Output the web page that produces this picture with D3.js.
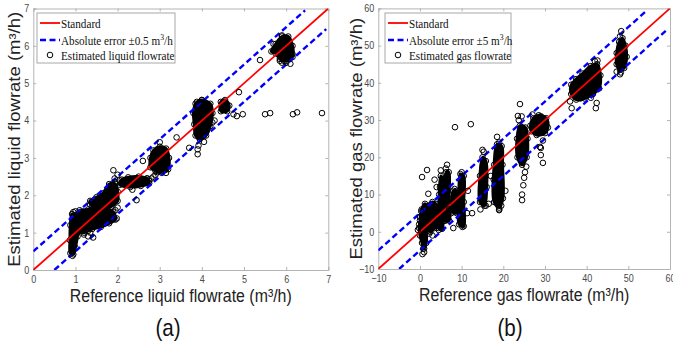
<!DOCTYPE html>
<html><head><meta charset="utf-8">
<script src="https://cdn.jsdelivr.net/npm/d3@7"></script>
<style>html,body{margin:0;padding:0;background:#fff;}svg{display:block;}</style>
</head><body>
<script>
// ---------- data ----------
const liquidTicks = [0,1,2,3,4,5,6,7];
const gasTicks = [-10,0,10,20,30,40,50,60];
const liquidBand = 0.5;
const gasBand = 5;
// dense regions (outlines of overlapping markers), data units
const liquidBlobs = [
  [[0.88,0.45],[0.95,0.42],[1.0,0.6],[1.05,0.9],[1.1,1.1],[1.06,1.45],[0.92,1.5],[0.88,1.2],[0.87,0.8]],
  [[1.0,1.05],[1.2,1.0],[1.4,1.1],[1.6,1.15],[1.8,1.25],[1.95,1.35],[1.9,1.55],[1.7,1.65],[1.5,1.7],[1.3,1.62],[1.1,1.6],[1.0,1.45]],
  [[1.4,1.7],[1.6,1.6],[1.85,1.7],[2.0,1.85],[2.0,2.1],[1.95,2.3],[1.8,2.3],[1.65,2.05],[1.5,1.95],[1.35,1.85]],
  [[2.05,2.28],[2.3,2.22],[2.55,2.25],[2.75,2.32],[2.7,2.45],[2.5,2.5],[2.25,2.48],[2.1,2.42]],
  [[2.78,2.75],[2.9,2.65],[3.05,2.6],[3.2,2.7],[3.22,3.0],[3.15,3.25],[3.0,3.3],[2.85,3.2],[2.78,3.0]],
  [[3.85,3.6],[3.95,3.5],[4.1,3.6],[4.2,3.85],[4.25,4.2],[4.2,4.45],[4.0,4.55],[3.85,4.45],[3.8,4.2],[3.82,3.9]],
  [[4.45,4.25],[4.6,4.25],[4.65,4.4],[4.55,4.55],[4.45,4.5]],
  [[5.75,5.8],[5.85,5.65],[6.0,5.6],[6.15,5.7],[6.15,6.0],[6.05,6.25],[5.9,6.25],[5.75,6.05],[5.65,5.85]]
];
const liquidPoints = [
  [0.93,0.38],[0.92,0.48],[0.95,0.55],[0.95,1.55],[1.0,1.57],
  [1.2,0.95],[1.3,0.9],[1.35,1.0],[1.42,0.87],[1.3,1.05],[1.25,1.1],
  [1.35,1.75],[1.38,1.82],[1.55,1.85],[1.6,1.95],[1.75,2.1],[1.85,2.25],[1.9,2.67],[1.95,2.35],[2.0,2.55],[1.93,2.45],[2.05,2.4],
  [1.98,1.38],[2.0,1.67],[1.95,1.6],
  [2.35,2.15],[2.45,1.87],[2.6,2.92],[2.6,2.33],[2.75,2.38],[2.7,2.45],
  [2.8,2.45],[2.85,2.5],[2.9,2.55],[3.0,3.42],[3.15,2.6],[2.95,2.62],[3.4,3.55],[3.7,3.27],
  [3.9,3.1],[3.9,3.23],[3.92,3.33],[4.05,3.43],[4.05,3.6],[4.1,3.7],[3.88,4.5],[4.0,4.55],[4.25,3.95],[4.3,4.0],
  [4.75,4.17],[4.88,4.76],
  [4.83,4.12],[4.97,4.17],[5.5,4.17],[5.62,4.2],[6.16,4.17],[6.26,4.22],[6.85,4.2],
  [5.38,5.62],[5.85,5.6],[5.9,5.55],[6.0,5.55],[6.1,5.52],[5.95,5.6],[6.15,5.78],[5.7,6.05],[5.9,6.28]
];
const gasBlobs = [
  [[0,-1],[0.5,-3],[1,-4.5],[1.5,-3],[1.6,0],[1.8,3],[1.6,6],[1.2,7.5],[0.4,6],[0,3],[-0.2,1]],
  [[1.8,1],[2.5,0],[3.5,1],[4.5,2],[4.5,6],[3.8,7.5],[3,8],[2,7]],
  [[4.5,1],[5.3,0.8],[5.6,5],[5.5,14],[5,15],[4.6,10],[4.5,5]],
  [[6,3],[7,3],[7,10],[6.9,16],[6.3,16],[6.1,10]],
  [[7.7,5.5],[8.8,5],[9,8],[8.8,11],[8,11],[7.6,8]],
  [[9.4,2],[10.5,1.5],[10.5,8],[10.5,15],[9.7,15.5],[9.4,8]],
  [[14.4,8],[15.5,7],[16,12],[15.8,19],[15,20],[14.4,15]],
  [[17.8,8],[19,6.5],[19.9,9],[19.8,18],[19.6,23],[18.5,23.5],[17.8,18]],
  [[23.4,20],[24.5,18],[25.6,20],[25.8,25],[25.3,28],[24,28.5],[23.3,25]],
  [[26.8,27],[28,26],[30,26.5],[30.7,28],[30.3,30.5],[28.5,31.3],[27.2,30.5],[26.5,28.5]],
  [[36.3,37],[37.5,35.5],[39.5,35.8],[41.5,37],[43,38.5],[43.3,42],[42.5,45],[41,44.5],[39,42.5],[37.5,41],[36.3,39.5]],
  [[47.2,45],[48,43.5],[49,44],[49.6,47],[49.3,50],[48.6,52],[47.8,51],[47.2,48]]
];
const gasPoints = [
  [0.6,-6],[1,-5.5],[0.8,-4.5],[1.1,-2],[0.3,5.5],[0,4],[-0.2,2],[-0.5,0.5],[0.5,14.7],[1.7,16.6],
  [2,10.2],[3.5,14],[4,12],[2.2,-0.5],[3,-1],[4.5,0.5],
  [5,16.5],[6.5,18],[6.2,17],[7,6],[5,1],[6,3],[4.8,12],
  [8,1],[8.3,11.5],[7.5,5],
  [10,16],[10.2,1.3],[11.3,5],[12.5,5],[12.2,28.9],[8.4,28.1],[11.5,11],
  [15.3,21.5],[15,22],[14.5,6],[15.8,7],[16.5,7.5],[17,15],
  [18.5,25.5],[19,24],[19,6],[19,5.8],[19.5,7],[20.5,11],[17.7,14],
  [24,34.3],[23.5,31.1],[24.5,8.5],[24.5,10],[24.8,12.5],[25,14.5],[25.2,16],[25.5,17.5],[23.7,30],[24.4,31],
  [28.8,22.8],[29.5,18.5],[29,20.6],[29,22.5],[29.5,24.5],[27,31.5],[29,31],
  [36.4,33.2],[36,35],[42.4,34.6],[42.2,33.2],[42,45.8],[42.6,46],[38.5,35.8],[41,36],
  [48.3,53.9],[48,52.5],[47.2,43],[48,42.3],[48.2,42.8]
];

// ---------- drawing ----------
const W = 673, H = 349, SX = 0.86;
const svg = d3.select("body").append("svg").attr("width", W).attr("height", H);
const fmt = d3.format("d");

function panel(opt) {
  const x = d3.scaleLinear().domain(opt.domain).range([opt.x0, opt.x1]);
  const y = d3.scaleLinear().domain(opt.domain).range([opt.y0, opt.y1]);
  const g = svg.append("g");
  const [d0, d1] = opt.domain;
  const clipId = "clip" + opt.id;
  svg.append("clipPath").attr("id", clipId).append("rect")
    .attr("x", opt.x0).attr("y", opt.y1).attr("width", opt.x1 - opt.x0).attr("height", opt.y0 - opt.y1);
  const axc = "#b4b4b4";
  const sf = "Liberation Sans, Arial, sans-serif";

  // axis titles (drawn first, underneath)
  svg.append("text").attr("transform", `translate(${(opt.x0 + opt.x1) / 2},${opt.y0 + 32}) scale(${SX},1)`)
    .attr("text-anchor", "middle").attr("font-family", sf).attr("font-size", 18.5).attr("fill", "#222")
    .text(opt.xLabel);
  svg.append("text").attr("transform", `translate(${opt.ylx},${(opt.y0 + opt.y1) / 2}) scale(${SX},1) rotate(-90)`)
    .attr("text-anchor", "middle").attr("font-family", sf).attr("font-size", 18.5).attr("fill", "#222")
    .text(opt.yLabel);
  svg.append("text").attr("transform", `translate(${opt.capX},336) scale(${SX},1)`)
    .attr("text-anchor", "middle").attr("font-family", sf).attr("font-size", 24).attr("fill", "#111")
    .text(opt.caption);

  // axes with inward ticks on all sides
  const axB = d3.axisBottom(x).tickValues(opt.ticks).tickSize(-3).tickPadding(6).tickFormat(fmt);
  const axL = d3.axisLeft(y).tickValues(opt.ticks).tickSize(-3).tickPadding(4).tickFormat(fmt);
  const axT = d3.axisTop(x).tickValues(opt.ticks).tickSize(-3).tickFormat("");
  const axR = d3.axisRight(y).tickValues(opt.ticks).tickSize(-3).tickFormat("");
  const gb = g.append("g").attr("transform", `translate(0,${opt.y0})`).call(axB);
  const gl = g.append("g").attr("transform", `translate(${opt.x0},0)`).call(axL);
  g.append("g").attr("transform", `translate(0,${opt.y1})`).call(axT);
  g.append("g").attr("transform", `translate(${opt.x1},0)`).call(axR);
  g.selectAll(".domain, .tick line").attr("stroke", axc);
  g.selectAll(".tick text").attr("fill", "#4a4a4a").attr("font-family", sf).attr("font-size", 10.5);
  gb.selectAll(".tick text").attr("transform", `scale(${SX},1)`);
  gl.selectAll(".tick text").attr("x", -4 / SX).attr("transform", `scale(${SX},1)`);

  const pg = g.append("g").attr("clip-path", `url(#${clipId})`);
  // blobs
  const line = d3.line().x(d => x(d[0])).y(d => y(d[1])).curve(d3.curveCatmullRomClosed);
  pg.selectAll("path.blob").data(opt.blobs).join("path").attr("class", "blob")
    .attr("d", line).attr("fill", "#000").attr("stroke", "#000").attr("stroke-width", 3);
  const vtx = opt.blobs.flat();
  pg.selectAll("circle.v").data(vtx).join("circle").attr("class", "v")
    .attr("cx", d => x(d[0])).attr("cy", d => y(d[1])).attr("r", 2.8)
    .attr("fill", "none").attr("stroke", "#000").attr("stroke-width", 1);
  // reference lines
  pg.append("line").attr("x1", x(d0)).attr("y1", y(d0)).attr("x2", x(d1)).attr("y2", y(d1))
    .attr("stroke", "#ff0000").attr("stroke-width", 1.8);
  pg.append("line").attr("x1", x(d0)).attr("y1", y(d0 + opt.band)).attr("x2", x(d1 - opt.band - opt.band * 0.1)).attr("y2", y(d1 - opt.band * 0.1))
    .attr("stroke", "#0000ff").attr("stroke-width", 2.4).attr("stroke-dasharray", "6,3.5");
  pg.append("line").attr("x1", x(d0 + opt.band)).attr("y1", y(d0)).attr("x2", x(d1 - opt.band * 0.1)).attr("y2", y(d1 - opt.band - opt.band * 0.1))
    .attr("stroke", "#0000ff").attr("stroke-width", 2.4).attr("stroke-dasharray", "6,3.5");
  // outlier markers
  pg.selectAll("circle.p").data(opt.points).join("circle").attr("class", "p")
    .attr("cx", d => x(d[0])).attr("cy", d => y(d[1])).attr("r", 2.8)
    .attr("fill", "none").attr("stroke", "#000").attr("stroke-width", 1);

  // legend
  const lg = g.append("g").attr("transform", `translate(${opt.lx},${opt.ly})`);
  lg.append("rect").attr("x", 0).attr("y", 0).attr("width", opt.lw).attr("height", 50)
    .attr("fill", "#fff").attr("stroke", "#a8a8a8").attr("stroke-width", 1);
  const rows = [10, 27, 42];
  lg.append("line").attr("x1", 3).attr("x2", 23).attr("y1", rows[0]).attr("y2", rows[0]).attr("stroke", "#ff0000").attr("stroke-width", 1.8);
  lg.append("line").attr("x1", 3).attr("x2", 23).attr("y1", rows[1]).attr("y2", rows[1]).attr("stroke", "#0000ff").attr("stroke-width", 2.4).attr("stroke-dasharray", "6,3.5");
  lg.append("circle").attr("cx", 13).attr("cy", rows[2]).attr("r", 2.8).attr("fill", "none").attr("stroke", "#000");
  const tf = "Liberation Serif, Times New Roman, serif";
  const addT = (row, fn) => {
    const t = lg.append("text").attr("transform", `translate(24,${row + 4.5}) scale(${SX},1)`)
      .attr("font-family", tf).attr("font-size", 13).attr("fill", "#111");
    fn(t);
  };
  addT(rows[0], t => t.text("Standard"));
  addT(rows[1], t => {
    t.append("tspan").text(opt.errLabel + " m");
    t.append("tspan").attr("dy", -5).attr("font-size", 9).text("3");
    t.append("tspan").attr("dy", 5).text("/h");
  });
  addT(rows[2], t => t.text(opt.estLabel));
}

panel({id: "a", domain: [0, 7], ticks: liquidTicks, band: liquidBand,
  x0: 33.3, x1: 328.3, y0: 270, y1: 8.5,
  blobs: liquidBlobs, points: liquidPoints,
  lx: 37, ly: 13, lw: 138,
  errLabel: "Absolute error \u00b10.5", estLabel: "Estimated liquid flowrate",
  xLabel: "Reference liquid flowrate (m\u00b3/h)", yLabel: "Estimated liquid flowrate (m\u00b3/h)",
  ylx: 20, capX: 168, caption: "(a)"});
panel({id: "b", domain: [-10, 60], ticks: gasTicks, band: gasBand,
  x0: 378.3, x1: 670, y0: 269, y1: 8.4,
  blobs: gasBlobs, points: gasPoints,
  lx: 385, ly: 13, lw: 126,
  errLabel: "Absolute error \u00b15", estLabel: "Estimated gas flowrate",
  xLabel: "Reference gas flowrate (m\u00b3/h)", yLabel: "Estimated gas flowrate (m\u00b3/h)",
  ylx: 362, capX: 510, caption: "(b)"});
</script>
</body></html>
